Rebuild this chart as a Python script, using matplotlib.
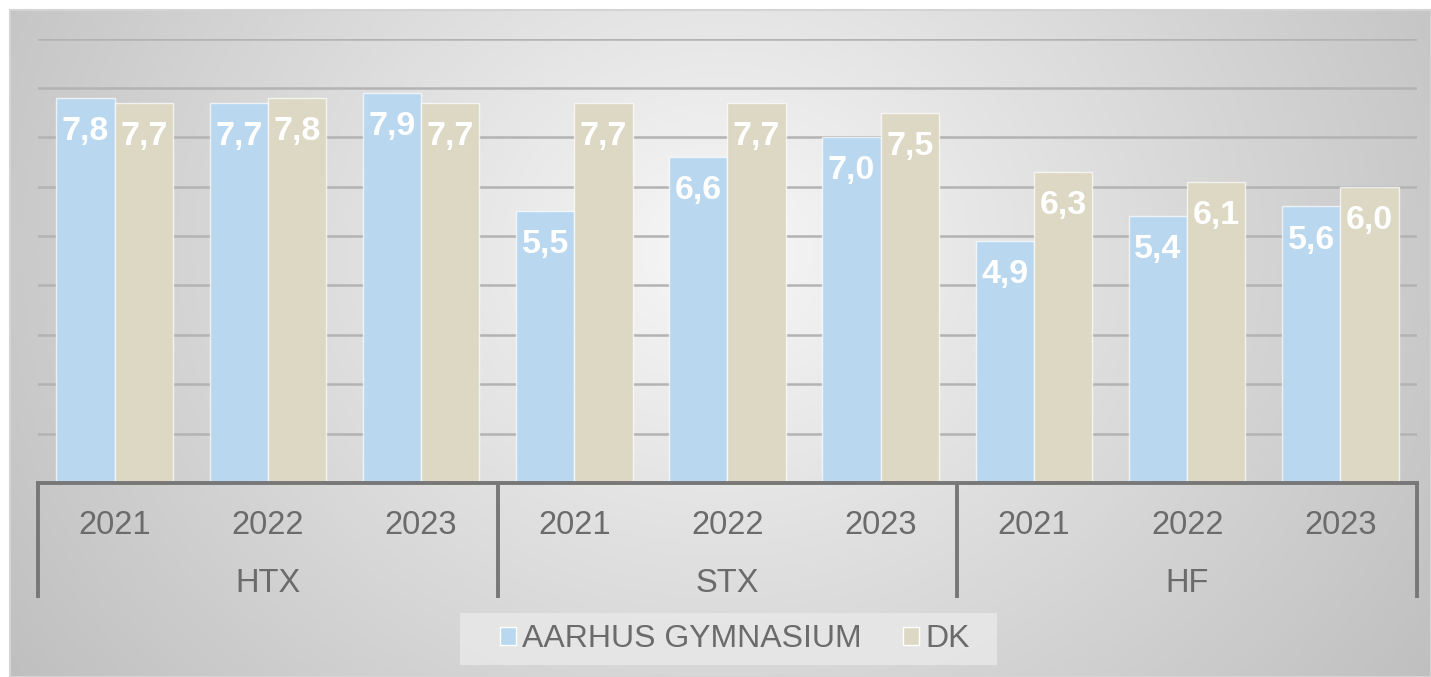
import numpy as np
import matplotlib
matplotlib.use("Agg")
import matplotlib.pyplot as plt
from matplotlib.patches import Patch, Rectangle
import matplotlib.transforms as mtransforms

# ---- data ----
groups = ["HTX", "STX", "HF"]
years = ["2021", "2022", "2023"]
aarhus = [7.8, 7.7, 7.9, 5.5, 6.6, 7.0, 4.9, 5.4, 5.6]
dk = [7.7, 7.8, 7.7, 7.7, 7.7, 7.5, 6.3, 6.1, 6.0]
series_names = ["AARHUS GYMNASIUM", "DK"]
value_labels_a = ["7,8", "7,7", "7,9", "5,5", "6,6", "7,0", "4,9", "5,4", "5,6"]
value_labels_d = ["7,7", "7,8", "7,7", "7,7", "7,7", "7,5", "6,3", "6,1", "6,0"]

W, H = 1431, 677
plt.rcParams['font.family'] = ['Liberation Sans', 'DejaVu Sans']
fig = plt.figure(figsize=(W / 100, H / 100), dpi=100)
fig.patch.set_facecolor("white")

# ---- gradient background ----
bx0, by0 = 10, 0
bw, bh = W - 10, H - 10
bg = fig.add_axes([bx0 / W, by0 / H, bw / W, bh / H])
yy, xx = np.mgrid[0:bh, 0:bw]
cx, cy = 710, 240
d = np.sqrt(((xx - cx) / (0.6 * bw)) ** 2 + ((yy - cy) / (1.1 * bh)) ** 2)
val = 247 - 55 * np.clip(d, 0, 1.3)
img = np.dstack([val, val, val]) / 255.0
bg.imshow(img, aspect="auto", interpolation="bilinear", extent=(0, 1, 0, 1), origin="upper")
bg.set_xlim(0, 1); bg.set_ylim(0, 1)
bg.set_xticks([]); bg.set_yticks([])
for s in bg.spines.values():
    s.set_color("#d4d4d4"); s.set_linewidth(1.5)
bg.set_zorder(0)
# legend box
bg.add_patch(Rectangle(((460 - bx0) / bw, 1 - (665 - 10) / bh), 537 / bw, 52 / bh,
                       transform=bg.transAxes, facecolor="#e8e8e8", alpha=0.85,
                       edgecolor="none", zorder=3))

# ---- main axes ----
left_px, right_px = 38, 1417
base_px, top_px = 483, 38.6
ax = fig.add_axes([left_px / W, (H - base_px) / H, (right_px - left_px) / W, (base_px - top_px) / H])
ax.set_zorder(1)
ax.patch.set_alpha(0)
ax.set_xlim(-0.5, 8.5)
ax.set_ylim(0, 9)

for s in ["top", "right", "left"]:
    ax.spines[s].set_visible(False)
ax.spines["bottom"].set_color("#777777")
ax.spines["bottom"].set_linewidth(2.8)
ax.set_yticks([])
ax.set_xticks([])
for yv in range(1, 10):
    ax.axhline(yv, color="#b3b3b3", lw=1.8, zorder=0.5)

x = np.arange(len(aarhus))
bw_ = 0.38
c_a = "#b9d7ef"
c_d = "#dcd8c4"
ba = ax.bar(x - bw_ / 2, aarhus, bw_, color=c_a, edgecolor=(1, 1, 1, 0.7), linewidth=1.0, zorder=2)
bd = ax.bar(x + bw_ / 2, dk, bw_, color=c_d, edgecolor=(1, 1, 1, 0.7), linewidth=1.0, zorder=2)

for rect, lab in list(zip(ba, value_labels_a)) + list(zip(bd, value_labels_d)):
    ax.annotate(lab, (rect.get_x() + rect.get_width() / 2, rect.get_height()),
                xytext=(0, -13), textcoords="offset points", ha="center", va="top",
                color="white", fontsize=24.5, fontweight="bold", zorder=3)

# ---- multi-level axis labels ----
trans = mtransforms.blended_transform_factory(ax.transData, ax.transAxes)
axh = base_px - top_px
tick_col = "#6b6b6b"
for i in range(len(aarhus)):
    ax.text(i, -42 / axh, years[i % 3], transform=trans, ha="center", va="center",
            fontsize=23.5, color=tick_col)
for g, name in enumerate(groups):
    ax.text(g * 3 + 1, -100 / axh, name, transform=trans, ha="center", va="center",
            fontsize=23.5, color=tick_col)
for xb in [-0.5, 2.5, 5.5, 8.5]:
    ax.plot([xb, xb], [0, -115 / axh], transform=trans, color="#777777", lw=2.8,
            clip_on=False, solid_capstyle="butt", zorder=3)

# ---- legend ----
handles = [Patch(facecolor=c_a, edgecolor="white", linewidth=1.0),
           Patch(facecolor=c_d, edgecolor="white", linewidth=1.0)]
leg = fig.legend(handles, series_names, loc="center", bbox_to_anchor=(735 / W, 1 - 639 / H),
                 ncol=2, frameon=False, fontsize=23,
                 handlelength=0.5, handleheight=0.5, handletextpad=0.2, columnspacing=1.3,
                 borderpad=0.3, borderaxespad=0, labelcolor=tick_col)
leg.set_zorder(5)

fig.savefig("out.png", dpi=100)
